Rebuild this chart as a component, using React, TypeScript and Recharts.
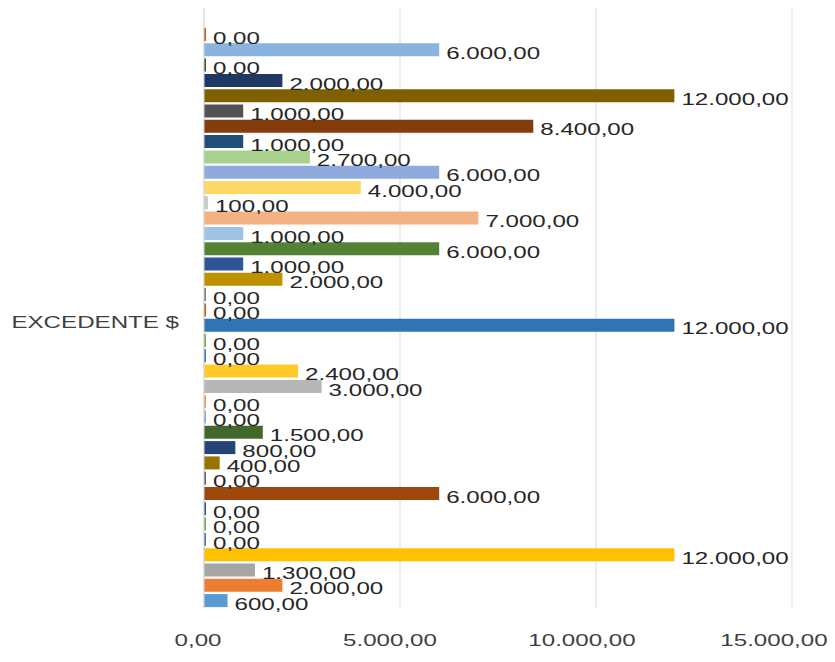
import React from 'react'
import { BarChart, Bar, XAxis, YAxis, CartesianGrid, LabelList } from 'recharts'

// one category, many series (top to bottom as drawn)
const category = 'EXCEDENTE $'

const seriesValues = [
    0, 6000, 0, 2000, 12000, 1000, 8400, 1000, 2700, 6000, 4000, 100, 7000,
    1000, 6000, 1000, 2000, 0, 0, 12000, 0, 0, 2400, 3000, 0, 0, 1500, 800,
    400, 0, 6000, 0, 0, 0, 12000, 1300, 2000, 600,
]

const seriesColors = [
    '#C55A11', '#8AB4E0', '#385723', '#203864', '#7F6000', '#525252',
    '#843C0C', '#1F4E79', '#A9D18E', '#8FAADC', '#FFD966', '#C9C9C9',
    '#F4B183', '#9DC3E6', '#548235', '#2F5597', '#BF9000', '#7F7F7F',
    '#C55A11', '#2E75B6', '#70AD47', '#4472C4', '#FFCA28', '#B7B7B7',
    '#F1975A', '#7CAFDD', '#43682B', '#264478', '#997300', '#636363',
    '#9E480E', '#255E91', '#70AD47', '#4472C4', '#FFC000', '#A5A5A5',
    '#ED7D31', '#5B9BD5',
]

const xTicks = [0, 5000, 10000, 15000]

const seriesKeys = seriesValues.map((_, i) => `s${i + 1}`)

const data = [
    seriesValues.reduce(
        (row, v, i) => ({ ...row, [seriesKeys[i]]: v }),
        { name: category } as Record<string, string | number>
    ),
]

const fmt = (v: number) => {
    const s = Math.round(v).toString().replace(/\B(?=(\d{3})+(?!\d))/g, '.')
    return `${s},00`
}

const FONT = '"Liberation Sans", Arial, sans-serif'
const SX = 1.42

const BarLabel = (props: any) => {
    const { x, y, width, height, value } = props
    return (
        <g transform={`translate(${x + width + 7},${y + height / 2 + 3}) scale(${SX},1)`}>
            <text x={0} y={0} dominantBaseline="central" fontSize={17} fontFamily={FONT} fill="#262626">
                {fmt(Number(value))}
            </text>
        </g>
    )
}

const XTick = (props: any) => {
    const { x, y, payload } = props
    // 3D floor in the original pushes the labels a bit to the left
    const shift = -6 - (payload.value / 15000) * 12
    return (
        <g transform={`translate(${x + shift},${y + 26}) scale(${SX},1)`}>
            <text x={0} y={0} textAnchor="middle" dominantBaseline="central" fontSize={17} fontFamily={FONT} fill="#404040">
                {fmt(payload.value)}
            </text>
        </g>
    )
}

const YTick = (props: any) => {
    const { x, y, payload } = props
    return (
        <g transform={`translate(${x},${y + 4}) scale(${SX},1)`}>
            <text x={0} y={0} textAnchor="end" dominantBaseline="central" fontSize={17} fontFamily={FONT} fill="#404040">
                {payload.value}
            </text>
        </g>
    )
}

const App = () => {
    return (
        <div style={{ width: 827, height: 654 }}>
            <BarChart
                width={827}
                height={654}
                data={data}
                layout="vertical"
                barCategoryGap={0}
                barGap={2.3}
                margin={{ top: 0, right: 43, left: 0, bottom: 10 }}
            >
                <CartesianGrid vertical horizontal={false} stroke="#d9d9d9" />
                <XAxis
                    type="number"
                    domain={[0, 15000]}
                    ticks={xTicks}
                    axisLine={false}
                    tickLine={false}
                    height={44}
                    tickMargin={0}
                    tick={<XTick />}
                />
                <YAxis
                    type="category"
                    dataKey="name"
                    width={196}
                    axisLine={{ stroke: '#d9d9d9' }}
                    tickLine={false}
                    padding={{ top: 20, bottom: 0 }}
                    tick={<YTick />}
                    tickMargin={19}
                />
                {seriesKeys.map((k, i) => (
                    <Bar
                        key={k}
                        dataKey={k}
                        fill={seriesColors[i]}
                        minPointSize={2}
                        isAnimationActive={false}
                    >
                        <LabelList dataKey={k} content={<BarLabel />} />
                    </Bar>
                ))}
            </BarChart>
        </div>
    )
}

export default App
